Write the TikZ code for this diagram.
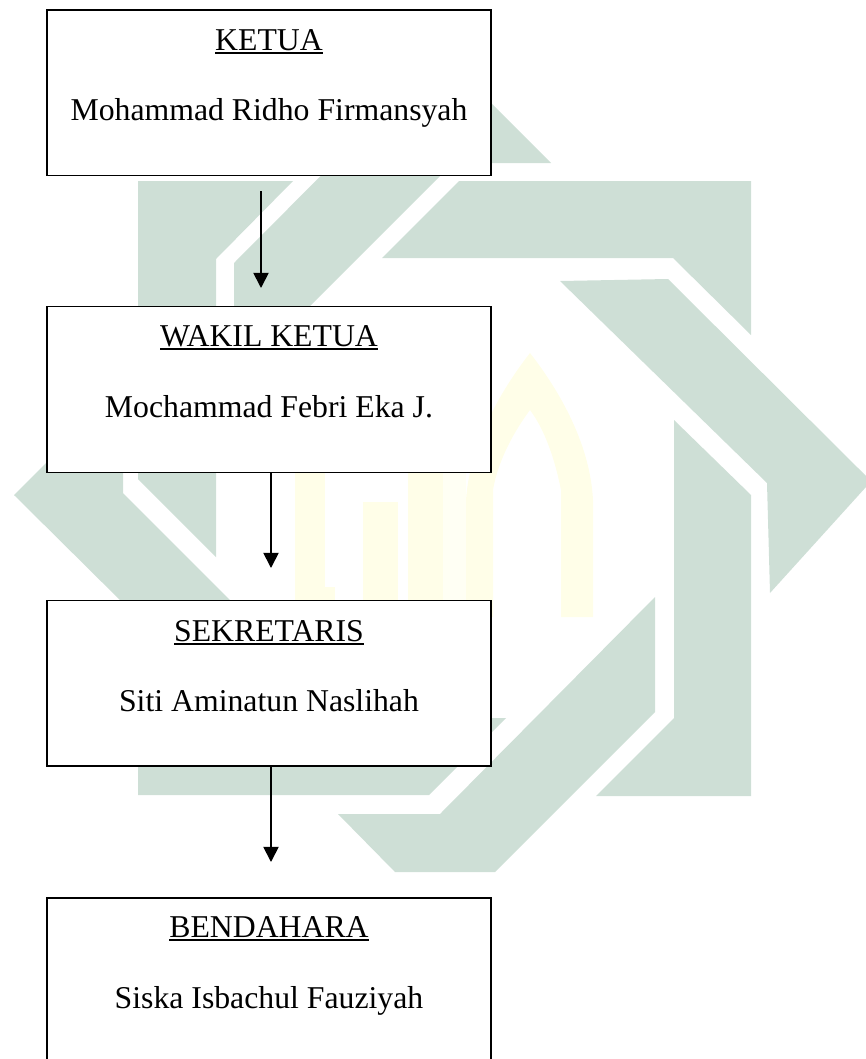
\documentclass[tikz,border=0pt]{standalone}
\usepackage{fontspec}
\setmainfont{Liberation Serif}
\usetikzlibrary{arrows.meta}
\definecolor{logogreen}{HTML}{CEDFD6}
\definecolor{logoyellow}{HTML}{FFFEE8}
\definecolor{logopale}{HTML}{FFFFF4}
\newcommand{\headline}[1]{\vtop{\hbox{#1}\kern1.5pt\hrule height 1.5pt}}
\begin{document}
\begin{tikzpicture}[x=0.03cm, y=-0.03cm,
		green/.style = {fill=logogreen},
		yellow/.style = {fill=logoyellow},
		pale/.style = {fill=logopale},
		main/.style = {draw, fill=white, line width=1.5pt, inner sep=0pt, outer sep=0pt, minimum width=13.32cm},
		txt/.style = {anchor=base, inner sep=0pt, font=\fontsize{27.1}{32}\selectfont},
		arrow/.style = {-{Triangle[length=13pt, width=13pt]}, line width=1.5pt}]
		\useasboundingbox (0,0) rectangle (866,1059);
		
		\path[green] (138,181) -- (293,181) -- (216,259) -- (216,557) -- (138,479) -- cycle;
		\path[green] (14,495) -- (123,386) -- (123,493) -- (240,610) -- (130,610) -- cycle;
		\path[green] (138,718) -- (506,718) -- (429,795) -- (138,795) -- cycle;
		\path[green] (234,263) -- (442,54) -- (551,163) -- (453,163) -- (300,316) -- (234,316) -- cycle;
		\path[green] (382,258) -- (459,181) -- (751,181) -- (751,335) -- (673,258) -- cycle;
		\path[green] (560,281) -- (668,279) -- (858,468) -- (866,476) -- (866,487) -- (770,593) -- (767,483) -- cycle;
		\path[green] (674,420) -- (751,495) -- (751,796) -- (596,796) -- (674,718) -- cycle;
		\path[green] (655,597) -- (655,712) -- (495,872) -- (395,872) -- (338,814) -- (440,814) -- cycle;
		
		\path[yellow] (295,473) rectangle (325,600);
		\path[yellow] (295,587) rectangle (335,600);
		\path[yellow] (363,502) rectangle (398,600);
		\path[yellow] (408,473) rectangle (443,600);
		\path[pale] (443,473) rectangle (466,600);
		\path[yellow] (466,617) -- (466,500) .. controls (470,440) and (505,385) .. (530,353) .. controls (555,385) and (590,440) .. (593,500) -- (593,617) -- (561,617) -- (561,490) .. controls (555,460) and (545,430) .. (530,410) .. controls (515,430) and (498,460) .. (493,490) -- (493,617) -- cycle;
		
		\node[main, minimum height=4.965cm] (ketua) at (269,92.75) {};
		\node[main, minimum height=4.98cm] (wakil) at (269,389.5) {};
		\node[main, minimum height=4.965cm] (sekretaris) at (269,683.25) {};
		\node[main, minimum height=5.46cm] (bendahara) at (269,989) {};
		
		\node[txt] (ketuahead) at (269,50) {\headline{KETUA}};
		\node[txt] (ketuaname) at (269,120) {Mohammad Ridho Firmansyah};
		\node[txt] (wakilhead) at (269,346) {\headline{WAKIL KETUA}};
		\node[txt] (wakilname) at (269,417) {Mochammad Febri Eka J.};
		\node[txt] (sekretarishead) at (269,641) {\headline{SEKRETARIS}};
		\node[txt] (sekretarisname) at (269,711) {Siti Aminatun Naslihah};
		\node[txt] (bendaharahead) at (269,937) {\headline{BENDAHARA}};
		\node[txt] (bendaharaname) at (269,1008) {Siska Isbachul Fauziyah};
		
		\coordinate (a1) at (261,191);
		\coordinate (b1) at (261,288);
		\coordinate (a2) at (271,473);
		\coordinate (b2) at (271,568);
		\coordinate (a3) at (271,766);
		\coordinate (b3) at (271,862);
		
		\draw[arrow] (a1) -- (b1);
		\draw[arrow] (a2) -- (b2);
		\draw[arrow] (a3) -- (b3);
\end{tikzpicture}
\end{document}
